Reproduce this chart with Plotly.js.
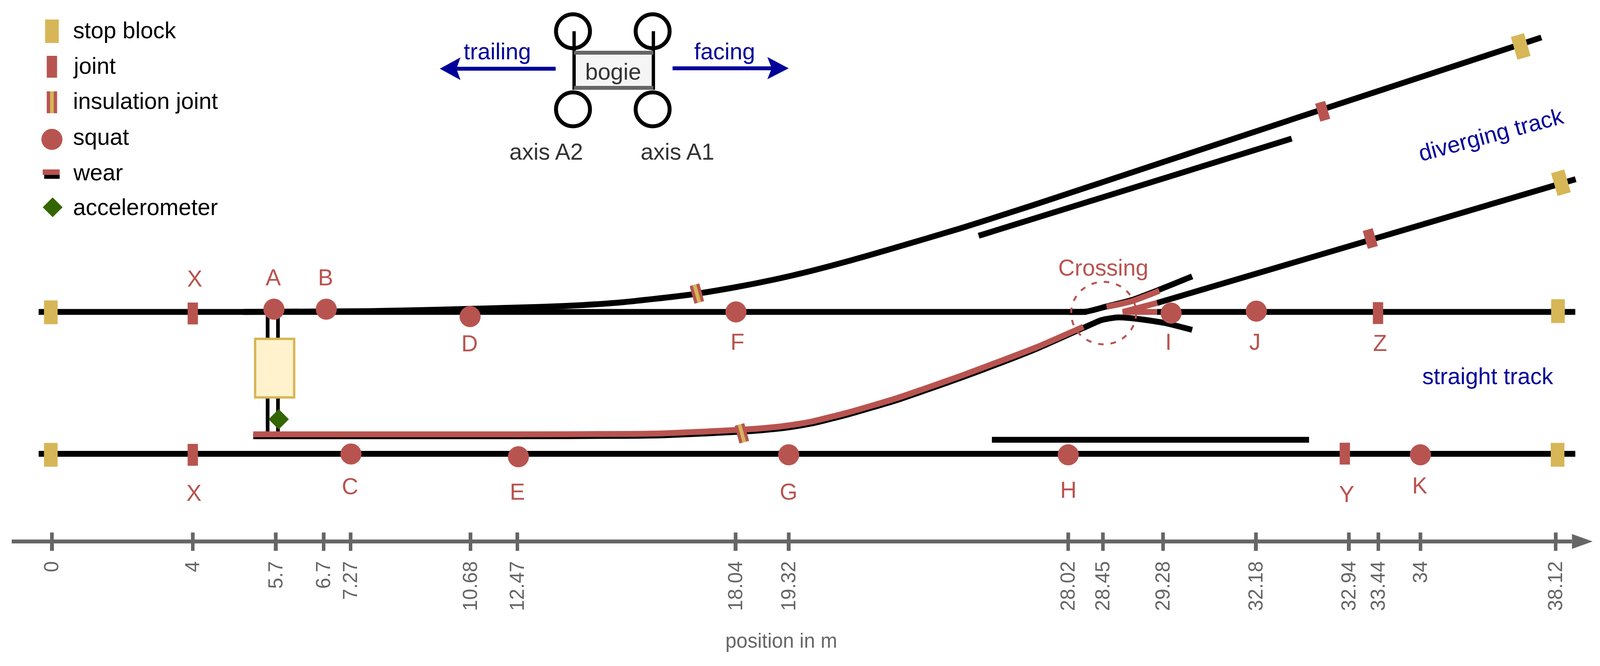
<!DOCTYPE html>
<html>
<head>
<meta charset="utf-8">
<script src="https://cdn.plot.ly/plotly-3.0.1.min.js"></script>
<style>html,body{margin:0;padding:0;background:#fff;overflow:hidden;}</style>
</head>
<body>
<div id="chart"></div>
<script>
// ---- colours / fonts
var RED='#b85450', GOLD='#d6b656', CREAM='#fff2cc', GREEN='#336600', BLUE='#000099', GREY='#666666', INK='#333333';
var FONT='"Liberation Sans", Arial, sans-serif';

// ---- position axis (labels are in metres; the drawing is a schematic, so spacing is not linear)
var tickLabels=['0','4','5.7','6.7','7.27','10.68','12.47','18.04','19.32','28.02','28.45','29.28','32.18','32.94','33.44','34','38.12'];
var tickPositions=[141,523,748,878,951,1276,1403,1995,2139,2897,2991,3154,3406,3658,3738,3852,4219];

// ---- rails (schematic coordinates)
var straightTopX=[105,2947], straightTopY=[799,799];
var straightBottomX=[105,4272], straightBottomY=[1162.5,1162.5];
var straightTopEndX=[3138,4272], straightTopEndY=[799,799];
var divergingOuterX=[660,1000,1200,1320,1468,1580,1691,1870,1996,2100,2200,2302,2404,2608,2800,3500,4180];
var divergingOuterY=[799,797,793,790,786,781.5,774,755,735.5,716,694,668.5,641,584,526,307,96];
var divergingInnerX=[687,1400,1700,1800,2023,2100,2157,2200,2302,2435,2506,2608,2710,2812,2938,2987,3032,3086,3157,3233];
var divergingInnerY=[1117.5,1117.5,1116.5,1115,1105,1099,1092,1085,1061,1024,1001,967,931,893,840,820,813,817,827,845];
var wingUpperX=[2900,2947,3001,3068,3144,3233];
var wingUpperY=[799,798,785,769,742,708];
var crossingLegX=[3138,4273], crossingLegY=[776,459];
var guardTopX=[2654,3503], guardTopY=[604,355];
var guardBottomX=[2690,3550], guardBottomY=[1126.5,1126.5];
var sleeperX=[726,754], sleeperTop=[799,799], sleeperBottom=[1112,1112];

// ---- wear
var wearCurveX=[687,1400,1700,1800,2023,2100,2157,2200,2302,2435,2506,2608,2710,2812,2938];
var wearCurveY=[1112.5,1112.5,1111.5,1110,1100,1094,1087,1080,1056,1019,996,962,926,889,837];
var wearWingX=[3001,3068,3144], wearWingY=[786,772,745];
var wearNoseX=[3138,3045,3138], wearNoseY=[776,799,799];

// ---- items on the track
var stopX=[138,138,4225,4224,4124,4233];
var stopY=[800,1165,797,1165,119,468];
var stopTilt=[0,0,0,0,17,17];
var jointX=[523,523,3737,3647,3587,3716];
var jointY=[803,1165,802,1162,285,611];
var jointTilt=[0,0,0,0,17,17];
var jointLength=[56,56,56,56,48,48];
var insulationX=[1890,2012], insulationY=[752,1110], insulationTilt=[16,16];
var squatX=[743,885,1275,952,1406,1996,2139,2897,3176,3407,3852];
var squatY=[792,792,811,1163,1170,799,1165,1165,802,797,1165];
var labelNames=['X','A','B','D','F','I','J','Z','X','C','E','G','H','Y','K'];
var labelX=[528,741,883,1273,2000,3169,3403,3743,526,949,1403,2139,2897,3652,3850];
var labelY=[713,710,710,879,875,875,875,878,1262,1245,1259,1259,1254,1265,1243];
var accelX=[756], accelY=[1074];
var boxX=[692,798], boxY=[868,1018];
var crossingCircleX=[2905,3081], crossingCircleY=[722,882];

// ---- legend
var legendNames=['stop block','joint','insulation joint','squat','wear','accelerometer'];
var legendRowY=[80,171,262,357,441,531];
var legendMarkX=141, legendTextX=196, legendTextY=[77,168,258,350,441,530];

// ---- bogie sketch
var wheelX=[1554,1770,1554,1770], wheelY=[80,80,280,280];
var axleX=[1557,1772], axleTop=[80,80], axleBottom=[230,230];
var bogieX=[1557,1772], bogieY=[135,225];
var arrowLeftShaftX=[1238,1507], arrowLeftShaftY=[176,176];
var arrowLeftHeadX=[1193,1249,1238,1249,1193], arrowLeftHeadY=[176,147,176,205,176];
var arrowRightShaftX=[1824,2093], arrowRightShaftY=[175,175];
var arrowRightHeadX=[2139,2081,2093,2081,2139], arrowRightHeadY=[175,146,175,203,175];

// ---- axis extras
var axisY=1387, axisUpperTickY=1364, axisLineX=[32,4263], arrowX=[4263,4319,4263,4263], arrowY=[1368,1387,1406,1368];

// The window can be narrower than the drawing: fit the drawing's width to it.
var DRAW_W=4339, DRAW_H=1706;
var W=Math.min(window.innerWidth||DRAW_W,DRAW_W), s=W/DRAW_W;

// ---- helpers
function bars(xs,ys,tilts,lengths){
  var x=[],y=[];
  xs.forEach(function(cx,i){
    var a=tilts[i]*Math.PI/180, l=(Array.isArray(lengths)?lengths[i]:lengths)/2;
    x.push(cx-l*Math.sin(a),cx+l*Math.sin(a),null);
    y.push(ys[i]-l*Math.cos(a),ys[i]+l*Math.cos(a),null);
  });
  return {x:x,y:y};
}
function columns(xs,tops,bottoms){
  var x=[],y=[];
  xs.forEach(function(v,i){x.push(v,v,null);y.push(tops[i],bottoms[i],null);});
  return {x:x,y:y};
}
function line(name,x,y,color,width,spline){
  return {type:'scatter',mode:'lines',name:name,x:x,y:y,cliponaxis:false,hoverinfo:'skip',
          line:{color:color,width:width,shape:spline?'spline':'linear',smoothing:spline?0.6:0}};
}
function poly(name,x,y,color){
  return {type:'scatter',mode:'lines',name:name,x:x,y:y,fill:'toself',fillcolor:color,cliponaxis:false,hoverinfo:'skip',line:{color:color,width:0}};
}
function text(t,x,y,size,color,angle){
  return {text:t,x:x,y:y,xref:'x',yref:'y',showarrow:false,xanchor:'center',yanchor:'middle',textangle:angle||0,
          font:{family:FONT,size:size*s,color:color}};
}
function leftText(t,x,y,size,color){var a=text(t,x,y,size,color);a.xanchor='left';return a;}

var sleepers=columns(sleeperX,sleeperTop,sleeperBottom);
var stops=bars(stopX,stopY,stopTilt,61);
var joints=bars(jointX,jointY,jointTilt,jointLength);
var insulOuter=bars(insulationX,insulationY,insulationTilt,47);
var legendStop=bars([legendMarkX],[legendRowY[0]],[0],60);
var legendJoint=bars([legendMarkX],[legendRowY[1]],[0],56);
var legendInsul=bars([legendMarkX],[legendRowY[2]],[0],56);
var axles=columns(axleX,axleTop,axleBottom);
var upperTicks=columns(tickPositions,tickPositions.map(function(){return axisUpperTickY;}),tickPositions.map(function(){return axisY;}));

var data=[
  line('sleepers',sleepers.x,sleepers.y,'#000',10*s),
  line('straight top',straightTopX,straightTopY,'#000',15),
  line('straight top end',straightTopEndX,straightTopEndY,'#000',15),
  line('straight bottom',straightBottomX,straightBottomY,'#000',15),
  line('diverging outer',divergingOuterX,divergingOuterY,'#000',15,true),
  line('diverging inner',divergingInnerX,divergingInnerY,'#000',15,true),
  line('wing upper',wingUpperX,wingUpperY,'#000',15,true),
  line('crossing leg',crossingLegX,crossingLegY,'#000',15),
  line('guard top',guardTopX,guardTopY,'#000',15),
  line('guard bottom',guardBottomX,guardBottomY,'#000',15),
  line('wear curve',wearCurveX,wearCurveY,RED,15,true),
  line('wear wing',wearWingX,wearWingY,RED,15,true),
  line('wear nose',wearNoseX,wearNoseY,RED,15),
  line('stop block',stops.x,stops.y,GOLD,37*s),
  line('joint',joints.x,joints.y,RED,28*s),
  line('insulation joint',insulOuter.x,insulOuter.y,RED,27*s),
  line('insulation core',insulOuter.x,insulOuter.y,GOLD,10*s),
  {type:'scatter',mode:'markers',name:'squat',x:squatX,y:squatY,cliponaxis:false,hoverinfo:'skip',marker:{symbol:'circle',size:54,color:RED,line:{width:0}}},
  {type:'scatter',mode:'markers',name:'accelerometer',x:accelX,y:accelY,cliponaxis:false,hoverinfo:'skip',marker:{symbol:'diamond',size:40,color:GREEN,line:{width:0}}},
  // legend marks
  line('legend stop',legendStop.x,legendStop.y,GOLD,37*s),
  line('legend joint',legendJoint.x,legendJoint.y,RED,28*s),
  line('legend insul',legendInsul.x,legendInsul.y,RED,28*s),
  line('legend insul core',legendInsul.x,legendInsul.y,GOLD,10*s),
  {type:'scatter',mode:'markers',name:'legend squat',x:[legendMarkX],y:[legendRowY[3]],cliponaxis:false,hoverinfo:'skip',marker:{symbol:'circle',size:54,color:RED,line:{width:0}}},
  line('legend wear',[116,162],[441,441],RED,14),
  line('legend wear base',[120,162],[453,453],'#000',10),
  {type:'scatter',mode:'markers',name:'legend accel',x:[143],y:[legendRowY[5]],cliponaxis:false,hoverinfo:'skip',marker:{symbol:'diamond',size:39,color:GREEN,line:{width:0}}},
  // bogie
  line('axles',axles.x,axles.y,'#000',9*s),
  line('bogie top',[bogieX[0],bogieX[1]],[bogieY[0],bogieY[0]],GREY,10),
  line('bogie bottom',[bogieX[0],bogieX[1]],[bogieY[1],bogieY[1]],GREY,10),
  {type:'scatter',mode:'markers',name:'wheels',x:wheelX,y:wheelY,cliponaxis:false,hoverinfo:'skip',marker:{symbol:'circle-open',size:87,color:'#000',line:{width:10,color:'#000'}}},
  line('arrow left',arrowLeftShaftX,arrowLeftShaftY,BLUE,10),
  poly('arrow left head',arrowLeftHeadX,arrowLeftHeadY,BLUE),
  line('arrow right',arrowRightShaftX,arrowRightShaftY,BLUE,10),
  poly('arrow right head',arrowRightHeadX,arrowRightHeadY,BLUE),
  // axis extras
  line('axis upper ticks',upperTicks.x,upperTicks.y,GREY,10*s),
  line('axis line',axisLineX,[axisY,axisY],GREY,10),
  poly('axis arrow',arrowX,arrowY,GREY)
];

var annotations=[];
labelNames.forEach(function(n,i){annotations.push(text(n,labelX[i],labelY[i],62,RED));});
legendNames.forEach(function(n,i){annotations.push(leftText(n,legendTextX,legendTextY[i],62,'#000'));});
annotations.push(text('bogie',1663,183,62,INK));
annotations.push(text('axis A2',1482,388,62,INK));
annotations.push(text('axis A1',1838,388,62,INK));
annotations.push(text('trailing',1349,131,62,BLUE));
annotations.push(text('facing',1965,131,62,BLUE));
annotations.push(text('Crossing',2992,685,62,RED));
annotations.push(text('straight track',4035,963,62,BLUE));
annotations.push(text('diverging track',4043,344,62,BLUE,-15));
annotations.push(text('position in m',2119,1641,54,GREY));

var layout={
  width:W,height:DRAW_H,showlegend:false,hovermode:false,
  paper_bgcolor:'#fff',plot_bgcolor:'#fff',
  margin:{l:32*s,r:0,t:0,b:0,pad:0},
  xaxis:{range:[32,DRAW_W],domain:[0,1],anchor:'free',position:1-axisY/DRAW_H,showgrid:false,zeroline:false,
         showline:false,ticks:'outside',ticklen:23,tickwidth:10*s,tickcolor:GREY,
         tickmode:'array',tickvals:tickPositions,ticktext:tickLabels,tickangle:-90,ticklabelstandoff:6,
         tickfont:{family:FONT,size:54*s,color:GREY},automargin:false,fixedrange:true},
  yaxis:{range:[DRAW_H,0],domain:[0,1],visible:false,fixedrange:true},
  shapes:[
    {type:'rect',xref:'x',yref:'y',x0:boxX[0],x1:boxX[1],y0:boxY[0],y1:boxY[1],fillcolor:CREAM,line:{color:GOLD,width:6},layer:'above'},
    {type:'rect',xref:'x',yref:'y',x0:bogieX[0]+5,x1:bogieX[1]-5,y0:bogieY[0]+5,y1:bogieY[1]-5,fillcolor:'#f5f5f5',line:{width:0},layer:'above'},
    {type:'circle',xref:'x',yref:'y',x0:crossingCircleX[0],x1:crossingCircleX[1],y0:crossingCircleY[0],y1:crossingCircleY[1],fillcolor:'rgba(0,0,0,0)',line:{color:RED,width:5,dash:'14px,18px'},layer:'above'}
  ],
  annotations:annotations
};
Plotly.newPlot('chart',data,layout,{displayModeBar:false,staticPlot:true});
</script>
</body>
</html>
